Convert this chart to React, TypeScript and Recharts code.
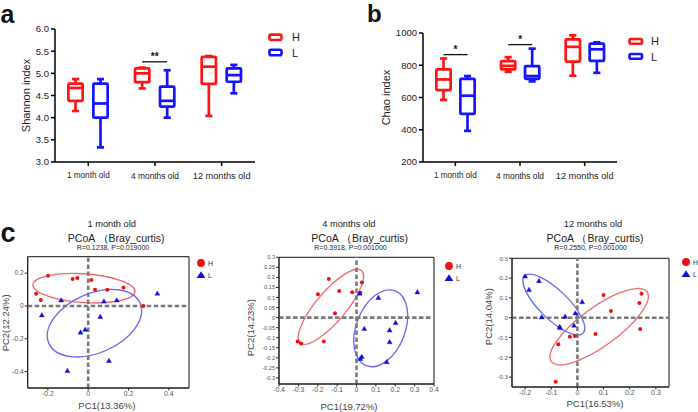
import React from 'react';
import {
  ComposedChart, Bar, XAxis, YAxis, Legend, ScatterChart, Scatter,
  ReferenceLine, ReferenceArea,
} from 'recharts';

const FONT = '"Liberation Sans", Arial, Helvetica, sans-serif';
const RED = '#ff1414';
const BLUE = '#1414ff';
const PT_RED = '#ee1010';
const PT_BLUE = '#1010dd';
const ELL_RED = '#f06a6a';
const ELL_BLUE = '#6a6af0';

// ---------- box plot data: [min, q1, median, q3, max] ----------
const ageGroups = ['1 month old', '4 months old', '12 months old'];
const ageTickFont = [8.2, 8.4, 9.2];

const shannonH = [
  [4.15, 4.38, 4.67, 4.77, 4.87],
  [4.66, 4.80, 5.00, 5.11, 5.13],
  [4.04, 4.76, 5.15, 5.37, 5.39],
];
const shannonL = [
  [3.33, 4.00, 4.32, 4.77, 4.87],
  [4.00, 4.25, 4.38, 4.70, 5.07],
  [4.55, 4.81, 4.96, 5.11, 5.19],
];
const shannonSigY = [null, 5.26, null];
const shannonSigText = ['', '**', ''];
const shannonTicks = [3.0, 3.5, 4.0, 4.5, 5.0, 5.5, 6.0];

const chaoH = [
  [585, 646, 712, 774, 842],
  [759, 774, 796, 825, 850],
  [735, 823, 914, 961, 986],
];
const chaoL = [
  [393, 498, 611, 716, 733],
  [700, 716, 733, 794, 903],
  [753, 827, 899, 934, 942],
];
const chaoSigY = [866, 928, null];
const chaoSigText = ['*', '*', ''];
const chaoTicks = [200, 400, 600, 800, 1000];

// ---------- PCoA data ----------
const pcoa1H = [
  { x: -0.258, y: 0.075 }, { x: -0.235, y: 0.036 }, { x: -0.199, y: 0.184 },
  { x: -0.077, y: 0.164 }, { x: -0.054, y: 0.170 }, { x: 0.016, y: 0.158 },
  { x: 0.034, y: 0.099 }, { x: 0.095, y: 0.099 }, { x: 0.175, y: 0.113 },
  { x: 0.274, y: 0.0 },
];
const pcoa1L = [
  { x: -0.134, y: 0.034 }, { x: -0.230, y: -0.057 }, { x: -0.038, y: -0.162 },
  { x: -0.015, y: -0.145 }, { x: -0.103, y: -0.396 }, { x: 0.078, y: 0.028 },
  { x: 0.142, y: 0.034 }, { x: 0.060, y: -0.067 }, { x: 0.103, y: -0.335 },
  { x: 0.343, y: 0.075 },
];
const pcoa2H = [
  { x: -0.143, y: 0.192 }, { x: -0.199, y: 0.116 }, { x: -0.089, y: 0.132 },
  { x: -0.022, y: 0.126 }, { x: 0.028, y: 0.175 }, { x: 0.020, y: 0.124 },
  { x: -0.111, y: 0.022 }, { x: -0.304, y: -0.119 }, { x: -0.286, y: -0.129 },
  { x: -0.169, y: -0.119 },
];
const pcoa2L = [
  { x: 0.016, y: 0.119 }, { x: 0.113, y: 0.098 }, { x: 0.314, y: 0.126 },
  { x: 0.040, y: -0.056 }, { x: 0.202, y: -0.026 }, { x: 0.171, y: -0.063 },
  { x: 0.171, y: -0.122 }, { x: 0.027, y: -0.195 }, { x: 0.020, y: -0.205 },
  { x: 0.156, y: -0.221 },
];
const pcoa3H = [
  { x: 0.100, y: 0.115 }, { x: 0.128, y: 0.034 }, { x: 0.245, y: 0.121 },
  { x: 0.237, y: 0.074 }, { x: 0.240, y: -0.057 }, { x: 0.069, y: -0.082 },
  { x: -0.029, y: -0.096 }, { x: -0.010, y: -0.092 }, { x: -0.073, y: -0.134 },
  { x: -0.083, y: -0.323 },
];
const pcoa3L = [
  { x: -0.200, y: 0.209 }, { x: -0.185, y: 0.140 }, { x: -0.147, y: 0.185 },
  { x: -0.137, y: 0.002 }, { x: -0.068, y: -0.047 }, { x: -0.066, y: -0.052 },
  { x: -0.047, y: 0.005 }, { x: -0.013, y: -0.040 }, { x: -0.008, y: 0.022 },
  { x: 0.018, y: 0.079 },
];

// ellipses: center (cx,cy), end of major semi-axis (mx,my), end of minor semi-axis (nx,ny)
const ell1H = { cx: -0.021, cy: 0.108, mx: 0.232, my: 0.090, nx: -0.025, ny: 0.196 };
const ell1L = { cx: 0.031, cy: -0.105, mx: 0.257, my: 0.018, nx: 0.091, ny: -0.270 };
const ell2H = { cx: -0.132, cy: 0.054, mx: 0.026, my: 0.234, nx: -0.073, ny: 0.006 };
const ell2L = { cx: 0.125, cy: -0.053, mx: 0.199, my: 0.133, nx: 0.243, ny: -0.096 };
const ell3H = { cx: 0.083, cy: -0.045, mx: 0.266, my: 0.131, nx: 0.126, ny: -0.124 };
const ell3L = { cx: -0.090, cy: 0.066, mx: 0.022, my: -0.078, nx: -0.052, ny: 0.119 };

const pc1XDomain = [-0.3, 0.5];
const pc1YDomain = [-0.5, 0.3];
const pc1XTicks = [-0.2, 0, 0.2, 0.4];
const pc1YTicks = [-0.4, -0.2, 0, 0.2];
const pc2XDomain = [-0.4, 0.4];
const pc2YDomain = [-0.33, 0.3];
const pc2XTicks = [-0.4, -0.3, -0.2, -0.1, 0, 0.1, 0.2, 0.3, 0.4];
const pc2YTicks = [-0.3, -0.25, -0.2, -0.15, -0.1, -0.05, 0, 0.05, 0.1, 0.15, 0.2, 0.25, 0.3];
const pc3XDomain = [-0.25, 0.35];
const pc3YDomain = [-0.35, 0.3];
const pc3XTicks = [-0.2, -0.1, 0, 0.1, 0.2, 0.3];
const pc3YTicks = [-0.3, -0.2, -0.1, 0, 0.1, 0.2, 0.3];

// ---------- helpers ----------
const fmt = (v: number) => String(Math.round(v * 100) / 100);

function buildRows(h: number[][], l: number[][], sigY: (number | null)[], sigText: string[]) {
  return ageGroups.map((age, i) => ({ age, idx: i, h: h[i], l: l[i], sigY: sigY[i], sigText: sigText[i] }));
}

function makeBoxShape(stat: 'h' | 'l', color: string, gap: number) {
  return (props: any) => {
    const { x, y, width, height, payload } = props;
    const s: number[] = payload[stat];
    const top = Math.min(y, y + height);
    const bot = Math.max(y, y + height);
    const span = s[4] - s[0];
    const py = (v: number) => bot - ((v - s[0]) / span) * (bot - top);
    const sw = 2.7;
    const cx = x + width / 2;
    const cap = width * 0.21;
    const q1 = py(s[1]);
    const med = py(s[2]);
    const q3 = py(s[3]);
    const elems: any[] = [];
    elems.push(<line key="wt" x1={cx} x2={cx} y1={py(s[4])} y2={q3} stroke={color} strokeWidth={sw} />);
    elems.push(<line key="wb" x1={cx} x2={cx} y1={q1} y2={py(s[0])} stroke={color} strokeWidth={sw} />);
    elems.push(<line key="ct" x1={cx - cap} x2={cx + cap} y1={py(s[4])} y2={py(s[4])} stroke={color} strokeWidth={sw} />);
    elems.push(<line key="cb" x1={cx - cap} x2={cx + cap} y1={py(s[0])} y2={py(s[0])} stroke={color} strokeWidth={sw} />);
    elems.push(
      <rect key="box" x={x + sw / 2} y={q3} width={width - sw} height={Math.max(q1 - q3, 0.5)}
        fill="#fff" stroke={color} strokeWidth={sw} rx={1} strokeLinejoin="round" />
    );
    elems.push(<line key="md" x1={x + sw / 2} x2={x + width - sw / 2} y1={med} y2={med} stroke={color} strokeWidth={sw} />);
    if (stat === 'h' && payload.sigY != null) {
      const yy = py(payload.sigY);
      const x2 = cx + width + gap;
      elems.push(<line key="sg" x1={cx} x2={x2} y1={yy} y2={yy} stroke="#111" strokeWidth={1.3} />);
      elems.push(
        <text key="st" x={(cx + x2) / 2} y={yy - 1.5} textAnchor="middle" fontSize={10}
          fontWeight="bold" fill="#111" fontFamily={FONT}>{payload.sigText}</text>
      );
    }
    return <g>{elems}</g>;
  };
}

const AgeTick = (dy: number) => (p: any) => {
  const i = ageGroups.indexOf(p.payload.value);
  return (
    <text x={p.x} y={p.y + dy} textAnchor="middle" dominantBaseline="central"
      fontSize={ageTickFont[i] ?? 8.5} fill="#222" fontFamily={FONT}>{p.payload.value}</text>
  );
};

const BoxLegend = (cfg: { ry1: number; ry2: number; tx: number; ty1: number; ty2: number; w: number; h: number }) => () => (
  <svg width={40} height={30} style={{ display: 'block', overflow: 'visible' }}>
    <rect x={1.5} y={cfg.ry1} width={cfg.w} height={cfg.h} rx={1.5} fill="none" stroke={RED} strokeWidth={2.6} />
    <text x={cfg.tx} y={cfg.ty1} dominantBaseline="central" fontSize={11} fill="#222" fontFamily={FONT}>H</text>
    <rect x={1.5} y={cfg.ry2} width={cfg.w} height={cfg.h} rx={1.5} fill="none" stroke={BLUE} strokeWidth={2.6} />
    <text x={cfg.tx} y={cfg.ty2} dominantBaseline="central" fontSize={11} fill="#222" fontFamily={FONT}>L</text>
  </svg>
);

const ScatterLegend = () => (
  <svg width={20} height={26} style={{ display: 'block', overflow: 'visible' }}>
    <circle cx={5} cy={5} r={3.9} fill={PT_RED} />
    <text x={12} y={5} dominantBaseline="central" fontSize={7} fill="#333" fontFamily={FONT}>H</text>
    <polygon points="5,13.3 0.6,20 9.4,20" fill={PT_BLUE} />
    <text x={12} y={17.5} dominantBaseline="central" fontSize={7} fill="#333" fontFamily={FONT}>L</text>
  </svg>
);

const RedDot = (p: any) => <circle cx={p.cx} cy={p.cy} r={2} fill={PT_RED} />;
const BlueTri = (p: any) => (
  <polygon points={`${p.cx},${p.cy - 2.7} ${p.cx - 2.5},${p.cy + 1.6} ${p.cx + 2.5},${p.cy + 1.6}`}
    fill={PT_BLUE} stroke={PT_BLUE} strokeWidth={0.4} />
);

const UNIT = 0.05;
function makeEllipseShape(e: any, color: string) {
  return (p: any) => {
    const { x, y, width, height } = p;
    const sx = width / UNIT;
    const sy = height / UNIT;
    const ox = x;
    const oy = y + height;
    const m = `matrix(${e.mx - e.cx} ${e.my - e.cy} ${e.nx - e.cx} ${e.ny - e.cy} 0 0)`;
    return (
      <g transform={`translate(${ox} ${oy}) scale(${sx} ${-sy}) ${m}`}>
        <circle cx={0} cy={0} r={1} fill="none" stroke={color} strokeWidth={1.35} vectorEffect="non-scaling-stroke" />
      </g>
    );
  };
}

type PanelProps = {
  left: number; top: number; width: number; height: number;
  margin: any; yAxisWidth: number; xAxisHeight: number;
  xDomain: number[]; yDomain: number[]; xTicks: number[]; yTicks: number[];
  hData: any[]; lData: any[]; ellH: any; ellL: any;
  xLabel: string; yLabel: string; xl: number[]; yl: number[];
  legendPos: number[]; xTickFont: number; yTickFont: number;
};

function PcoaPanel(p: PanelProps) {
  const axisTick = (fs: number) => ({ fontSize: fs, fill: '#555', fontFamily: FONT });
  return (
    <div style={{ position: 'absolute', left: p.left, top: p.top }}>
      <ScatterChart width={p.width} height={p.height} margin={p.margin}>
        <XAxis type="number" dataKey="x" domain={p.xDomain} ticks={p.xTicks} allowDataOverflow
          tickFormatter={fmt} height={p.xAxisHeight} tick={axisTick(p.xTickFont)} tickSize={2.5}
          tickMargin={0.5} stroke="#222" interval={0}
          label={{ value: p.xLabel, position: 'center', dx: p.xl[0], dy: p.xl[1], fontSize: 9.5, fill: '#444', fontFamily: FONT }} />
        <YAxis type="number" dataKey="y" domain={p.yDomain} ticks={p.yTicks} allowDataOverflow
          tickFormatter={fmt} width={p.yAxisWidth} tick={axisTick(p.yTickFont)} tickSize={3}
          tickMargin={1} stroke="#222" interval={0}
          label={{ value: p.yLabel, position: 'center', angle: -90, dx: p.yl[0], dy: p.yl[1], fontSize: 9.5, fill: '#444', fontFamily: FONT }} />
        <ReferenceArea x1={p.xDomain[0]} x2={p.xDomain[1]} y1={p.yDomain[0]} y2={p.yDomain[1]}
          fill="none" fillOpacity={0} stroke="#111" strokeWidth={1} ifOverflow="visible" />
        <ReferenceLine x={0} stroke="#7a7a7a" strokeWidth={2.6} strokeDasharray="4.5 2.5" ifOverflow="visible" />
        <ReferenceLine y={0} stroke="#7a7a7a" strokeWidth={2.6} strokeDasharray="4.5 2.5" ifOverflow="visible" />
        <ReferenceArea x1={p.ellH.cx} x2={p.ellH.cx + UNIT} y1={p.ellH.cy} y2={p.ellH.cy + UNIT}
          ifOverflow="visible" shape={makeEllipseShape(p.ellH, ELL_RED)} />
        <ReferenceArea x1={p.ellL.cx} x2={p.ellL.cx + UNIT} y1={p.ellL.cy} y2={p.ellL.cy + UNIT}
          ifOverflow="visible" shape={makeEllipseShape(p.ellL, ELL_BLUE)} />
        <Scatter name="H" data={p.hData} fill={PT_RED} shape={RedDot} isAnimationActive={false} />
        <Scatter name="L" data={p.lData} fill={PT_BLUE} shape={BlueTri} isAnimationActive={false} />
        <Legend layout="horizontal" verticalAlign="middle" content={ScatterLegend}
          wrapperStyle={{ left: p.legendPos[0], top: p.legendPos[1], width: 24, height: 26 }} />
      </ScatterChart>
    </div>
  );
}

const shannonRows = buildRows(shannonH, shannonL, shannonSigY, shannonSigText);
const chaoRows = buildRows(chaoH, chaoL, chaoSigY, chaoSigText);

const GAP_A = 8;
const GAP_B = 7;

export default function App() {
  return (
    <div style={{ position: 'absolute', left: 0, top: 0, width: 698, height: 412, background: '#fff', fontFamily: FONT, overflow: 'hidden' }}>
      {/* panel a */}
      <div style={{ position: 'absolute', left: 0, top: 0 }}>
        <ComposedChart width={340} height={200} data={shannonRows} barGap={GAP_A}
          margin={{ top: 29, right: 85, left: 0, bottom: 8 }}>
          <XAxis dataKey="age" height={30} tickSize={4} stroke="#000" strokeWidth={1.5}
            tick={AgeTick(7.5)} interval={0} />
          <YAxis domain={[3, 6]} ticks={shannonTicks} width={55} tickSize={4} stroke="#000" strokeWidth={1.5}
            tickFormatter={(v: number) => v.toFixed(1)} interval={0}
            tick={{ fontSize: 9.5, fill: '#222', fontFamily: FONT }}
            label={{ value: 'Shannon index', position: 'center', angle: -90, dx: -1, fontSize: 11, fill: '#222', fontFamily: FONT }} />
          <Bar dataKey={(r: any) => [r.h[0], r.h[4]]} barSize={17} isAnimationActive={false} shape={makeBoxShape('h', RED, GAP_A)} />
          <Bar dataKey={(r: any) => [r.l[0], r.l[4]]} barSize={17} isAnimationActive={false} shape={makeBoxShape('l', BLUE, GAP_A)} />
          <Legend layout="horizontal" verticalAlign="middle"
            content={BoxLegend({ ry1: 2.6, ry2: 17.8, tx: 24, ty1: 5.2, ty2: 21, w: 12, h: 5.4 })}
            wrapperStyle={{ left: 268, top: 32, width: 40, height: 30 }} />
        </ComposedChart>
      </div>

      {/* panel b */}
      <div style={{ position: 'absolute', left: 340, top: 0 }}>
        <ComposedChart width={358} height={200} data={chaoRows} barGap={GAP_B}
          margin={{ top: 33, right: 81, left: 0, bottom: 8 }}>
          <XAxis dataKey="age" height={30} tickSize={4} stroke="#000" strokeWidth={1.5}
            tick={AgeTick(7.5)} interval={0} />
          <YAxis domain={[200, 1000]} ticks={chaoTicks} width={83} tickSize={4} stroke="#000" strokeWidth={1.5}
            interval={0} tick={{ fontSize: 9.5, fill: '#222', fontFamily: FONT }}
            label={{ value: 'Chao index', position: 'center', angle: -90, dx: 5, fontSize: 11, fill: '#222', fontFamily: FONT }} />
          <Bar dataKey={(r: any) => [r.h[0], r.h[4]]} barSize={17} isAnimationActive={false} shape={makeBoxShape('h', RED, GAP_B)} />
          <Bar dataKey={(r: any) => [r.l[0], r.l[4]]} barSize={17} isAnimationActive={false} shape={makeBoxShape('l', BLUE, GAP_B)} />
          <Legend layout="horizontal" verticalAlign="middle"
            content={BoxLegend({ ry1: 3.0, ry2: 18, tx: 23, ty1: 5.3, ty2: 21, w: 12.5, h: 4.8 })}
            wrapperStyle={{ left: 288, top: 36, width: 40, height: 30 }} />
        </ComposedChart>
      </div>

      {/* panel c */}
      <PcoaPanel left={0} top={250} width={230} height={162}
        margin={{ top: 6.7, right: 41, left: 0, bottom: 0 }} yAxisWidth={27.7} xAxisHeight={24}
        xDomain={pc1XDomain} yDomain={pc1YDomain} xTicks={pc1XTicks} yTicks={pc1YTicks}
        hData={pcoa1H} lData={pcoa1L} ellH={ell1H} ellL={ell1L}
        xLabel="PC1(13.36%)" yLabel="PC2(12.24%)" xl={[-1.5, 5.5]} yl={[-8, 0.5]}
        legendPos={[196, 7.5]} xTickFont={6.8} yTickFont={6.6} />
      <PcoaPanel left={240} top={250} width={230} height={162}
        margin={{ top: 7.3, right: 36, left: 0, bottom: 0 }} yAxisWidth={39} xAxisHeight={28}
        xDomain={pc2XDomain} yDomain={pc2YDomain} xTicks={pc2XTicks} yTicks={pc2YTicks}
        hData={pcoa2H} lData={pcoa2L} ellH={ell2H} ellL={ell2L}
        xLabel="PC1(19.72%)" yLabel="PC2(14.23%)" xl={[-7.5, 8.7]} yl={[-8.8, 7]}
        legendPos={[204, 10.8]} xTickFont={6.8} yTickFont={5.6} />
      <PcoaPanel left={480} top={250} width={218} height={162}
        margin={{ top: 8.3, right: 29, left: 0, bottom: 0 }} yAxisWidth={32} xAxisHeight={25}
        xDomain={pc3XDomain} yDomain={pc3YDomain} xTicks={pc3XTicks} yTicks={pc3YTicks}
        hData={pcoa3H} lData={pcoa3L} ellH={ell3H} ellL={ell3L}
        xLabel="PC1(16.53%)" yLabel="PC2(14.04%)" xl={[4.5, 4.5]} yl={[-7, -6]}
        legendPos={[200.7, 6.8]} xTickFont={7} yTickFont={6.2} />

      {/* panel letters and titles */}
      <svg width={698} height={412} style={{ position: 'absolute', left: 0, top: 0, pointerEvents: 'none' }}>
        <g fontFamily={FONT} fill="#111">
          <text x={0.5} y={23} fontSize={25} fontWeight="bold">a</text>
          <text x={367} y={22} fontSize={24} fontWeight="bold">b</text>
          <text x={0.5} y={242} fontSize={27} fontWeight="bold">c</text>
        </g>
        <g fontFamily={FONT} fill="#222" textAnchor="middle" dominantBaseline="central">
          <text x={111.7} y={224} fontSize={9.3}>1 month old</text>
          <text x={116.2} y={238.3} fontSize={10.5}>PCoA （Bray_curtis)</text>
          <text x={113} y={247.3} fontSize={7}>R=0.1238, P=0.019000</text>
          <text x={348.8} y={224} fontSize={9.3}>4 months old</text>
          <text x={359.7} y={238.3} fontSize={10.5}>PCoA （Bray_curtis)</text>
          <text x={350.5} y={247.3} fontSize={7}>R=0.3918, P=0.001000</text>
          <text x={593} y={224} fontSize={9.3}>12 months old</text>
          <text x={595} y={238.3} fontSize={10.5}>PCoA （Bray_curtis)</text>
          <text x={590.5} y={247.3} fontSize={7}>R=0.2550, P=0.001000</text>
        </g>
      </svg>
    </div>
  );
}
